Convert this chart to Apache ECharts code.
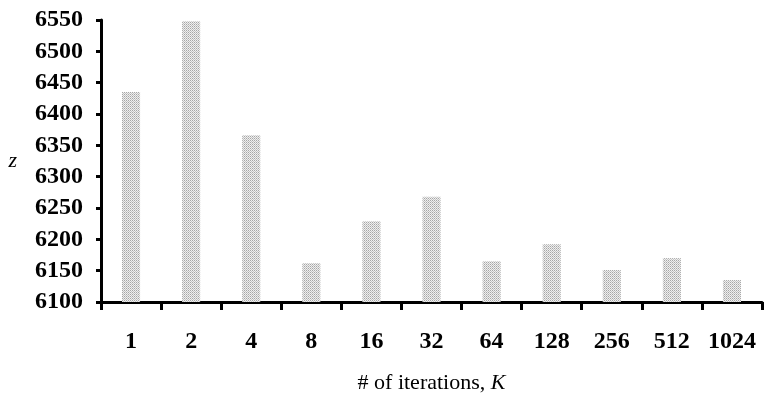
<!DOCTYPE html>
<html>
<head>
<meta charset="utf-8">
<script src="https://cdn.jsdelivr.net/npm/echarts@6/dist/echarts.min.js"></script>
<style>
html, body { margin: 0; padding: 0; background: #fff; }
#main { width: 764px; height: 399px; }
</style>
</head>
<body>
<div id="main"></div>
<script>
var iterations = ['1', '2', '4', '8', '16', '32', '64', '128', '256', '512', '1024'];
var zValues = [6435, 6548, 6366, 6162, 6229, 6268, 6165, 6192, 6151, 6170, 6135];

// dotted grey fill like the original print
var pat = document.createElement('canvas');
pat.width = 2; pat.height = 2;
var ctx = pat.getContext('2d');
ctx.fillStyle = '#efefef'; ctx.fillRect(0, 0, 2, 2);
ctx.fillStyle = '#a6a6a6'; ctx.fillRect(0, 0, 1, 1);
ctx.fillStyle = '#c4c4c4'; ctx.fillRect(1, 1, 1, 1);

var chart = echarts.init(document.getElementById('main'));
var option = {
	animation: false,
	grid: { left: 101, right: 2, top: 20, bottom: 97, outerBoundsMode: 'none' },
	xAxis: {
		type: 'category',
		data: iterations,
		name: '# of iterations, {k|K}',
		nameLocation: 'middle',
		nameGap: 70,
		nameTextStyle: {
			fontFamily: 'Liberation Serif', fontSize: 22, color: '#000',
			rich: { k: { fontFamily: 'Liberation Serif', fontStyle: 'italic', fontSize: 22, color: '#000' } }
		},
		axisLine: { lineStyle: { color: '#000', width: 3 } },
		axisTick: { show: true, interval: 0, alignWithLabel: false, length: 8, lineStyle: { color: '#000', width: 3 } },
		axisLabel: { interval: 0, margin: 28, fontFamily: 'Liberation Serif', fontWeight: 'bold', fontSize: 24, color: '#000' }
	},
	yAxis: {
		type: 'value',
		min: 6100, max: 6550, interval: 50,
		name: 'z',
		nameLocation: 'middle',
		nameGap: 84,
		nameRotate: 0,
		nameTextStyle: { fontFamily: 'Liberation Serif', fontStyle: 'italic', fontSize: 22, color: '#000', padding: [8, 0, 0, 0] },
		splitLine: { show: false },
		axisLine: { show: true, lineStyle: { color: '#000', width: 3 } },
		axisTick: { show: true, length: 5, lineStyle: { color: '#000', width: 3 } },
		axisLabel: {
			margin: 18, fontFamily: 'Liberation Serif', fontWeight: 'bold', fontSize: 24, color: '#000',
			formatter: function (v) { return String(v); }
		}
	},
	series: [{
		type: 'bar',
		data: zValues,
		barWidth: '30%',
		itemStyle: { color: { image: pat, repeat: 'repeat' } }
	}]
};
chart.setOption(option);
</script>
</body>
</html>
